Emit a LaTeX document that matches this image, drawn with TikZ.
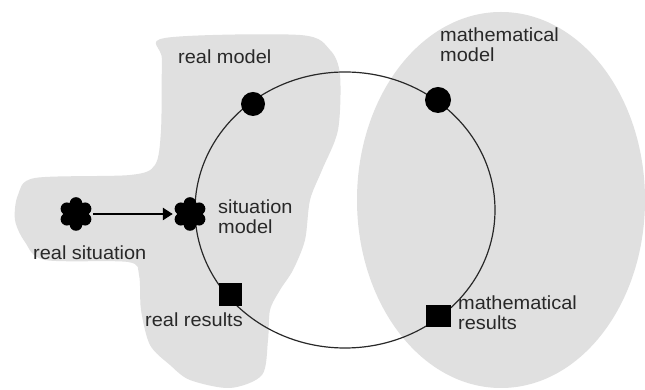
\documentclass[tikz,border=0pt]{standalone}
\usepackage{fontspec}
\setmainfont[FakeStretch=1.05]{Liberation Sans}
\usetikzlibrary{arrows.meta,shapes.geometric}
\definecolor{blobgray}{RGB}{224,224,224}
\definecolor{inkgray}{RGB}{40,40,40}
\tikzset{
  lbl/.style={anchor=west, inner sep=0pt, align=left, text=inkgray,
    font=\fontsize{19}{20}\selectfont},
  dotmark/.style={circle, fill=black, inner sep=0pt, minimum size=24pt},
  sqmark/.style={rectangle, fill=black, inner sep=0pt, minimum size=23pt},
  flower/.style={circle, inner sep=0pt, minimum size=34pt,
    path picture={
      \fill[black] (path picture bounding box.center) circle (13pt);
      \foreach \a in {0,60,...,300}
        \fill[black] ([shift={(\a+30:10.5pt)}]path picture bounding box.center) circle (6.3pt);
    }},
  cyclering/.style={ellipse, draw=inkgray, line width=1.2pt, inner sep=0pt,
    minimum width=300pt, minimum height=276pt},
  flowarrow/.style={-{Triangle[length=10pt,width=12pt]}, line width=2.8pt, black}
}
\begin{document}
\begin{tikzpicture}[x=1pt,y=1pt]
\useasboundingbox (0,0) rectangle (645,390);
\fill[white] (0,0) rectangle (645,390);
% real-world region
\fill[blobgray] plot[smooth cycle, tension=0.5] coordinates {
  (165,352) (300,355) (330,340) (340,315) (338,260) (322,220) (310,190)
  (305,150) (293,120) (280,100) (270,80) (268,50) (262,15) (230,2)
  (190,10) (170,25) (150,45) (141,80) (139,115) (128,128) (45,130)
  (25,148) (15,170) (18,195) (35,212) (130,215) (155,225) (161,260)
  (162,330)};
% mathematical region
\fill[blobgray] (501,190) ellipse [x radius=144, y radius=188];
% modelling cycle
\node (cyc) [cyclering] at (345,180) {};
% markers
\node (rm) [dotmark] at (253,286) {};
\node (mm) [dotmark, minimum width=26pt] at (438,290) {};
\node (rs) [flower] at (76,176) {};
\node (sm) [flower] at (190,176) {};
\node (rr) [sqmark] at (230,95) {};
\node (mr) [sqmark, minimum width=25pt, minimum height=22pt] at (438,74) {};
\draw[flowarrow] (rs) -- (sm);
% labels
\node (trm) [lbl] at (178,333) {real model};
\node (tmm) [lbl] at (440,345) {mathematical\\model};
\node (tsm) [lbl] at (218,173) {situation\\model};
\node (trs) [lbl] at (33,137) {real situation};
\node (trr) [lbl] at (145,70) {real results};
\node (tmr) [lbl] at (458,77) {mathematical\\results};
\end{tikzpicture}
\end{document}
